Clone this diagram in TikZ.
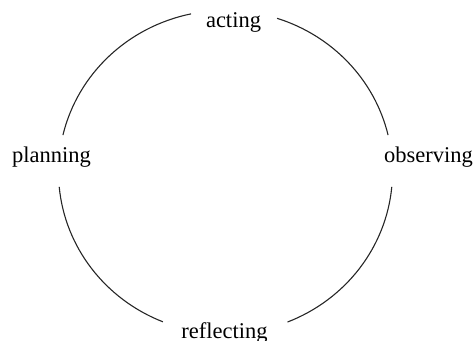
\documentclass[tikz,border=0pt]{standalone}
\usepackage{fontspec}
\setmainfont{Liberation Serif}
\usetikzlibrary{positioning}

\begin{document}
\begin{tikzpicture}[
  x=1pt, y=1pt,
  stage/.style={font=\fontsize{22.5}{27}\selectfont, anchor=base, inner sep=0pt},
  cyclearc/.style={draw=black!85, line width=1.1pt}
]
  \useasboundingbox (0,0) rectangle (473,340);
  \coordinate (c) at (225.5,168);

  \node[stage] (acting) at (233.5,312) {acting};
  \node[stage] (planning) at (51.5,177) {planning};
  \node[stage] (observing) at (428.5,177) {observing};
  \node[stage] (reflecting) at (224.5,2) {reflecting};

  % four arcs of the cycle, gaps left for the labels
  \foreach \a/\b in {101.9/166.8, 72/13.2, 185.3/248, 354.7/291.8}
    \draw[cyclearc] ([shift={(\a:167pt and 161.6pt)}]c) arc[start angle=\a, end angle=\b, x radius=167pt, y radius=161.6pt];
\end{tikzpicture}
\end{document}
